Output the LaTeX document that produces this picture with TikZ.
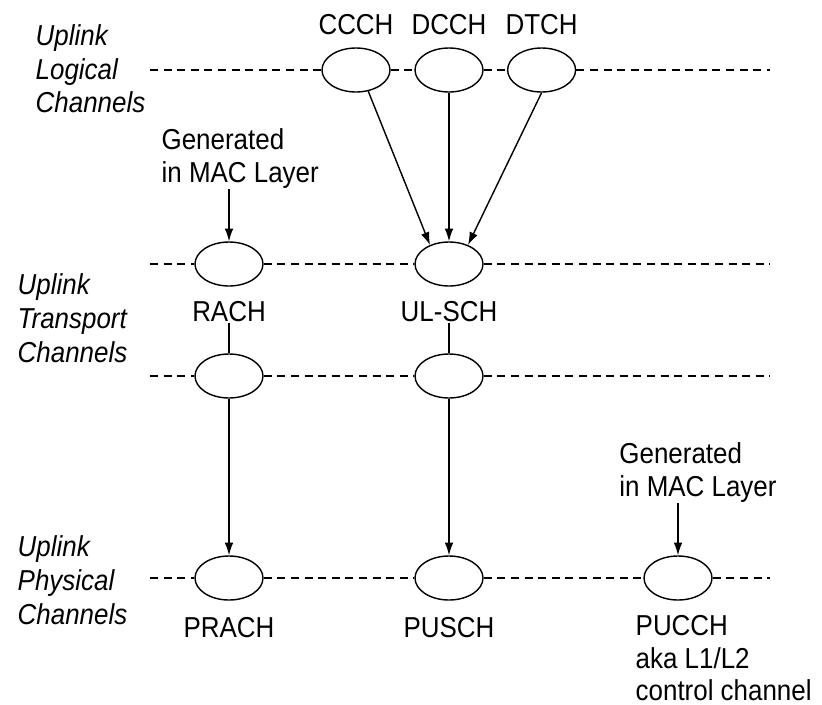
\documentclass[tikz,border=0pt]{standalone}
\usepackage{fontspec}
\setmainfont{Liberation Sans}[FakeStretch=0.9]
\usetikzlibrary{positioning,arrows.meta,shapes.geometric}
\tikzset{
  chan/.style={draw,ellipse,minimum width=1.7cm,minimum height=1.1cm,inner sep=0pt},
  txt/.style={inner sep=0pt,font=\fontsize{20.5}{23.5}\selectfont},
  layer/.style={inner sep=0pt,align=left,font=\fontsize{20.5}{24}\selectfont\itshape},
  guide/.style={dash pattern=on 0.2cm off 0.14cm},
}
\begin{document}
\begin{tikzpicture}[>={Latex[length=3.2mm,width=2.2mm]},line width=1pt]
\useasboundingbox (0,0) rectangle (20.55,-17.6);
% logical channels
\node[chan] (ccch) at (8.9,-1.75) {};
\node[chan] (dcch) at (11.225,-1.75) {};
\node[chan] (dtch) at (13.54,-1.75) {};
\node[txt,above=0.3cm of ccch] (ccchlbl) {CCCH};
\node[txt,above=0.3cm of dcch] (dcchlbl) {DCCH};
\node[txt,above=0.3cm of dtch] (dtchlbl) {DTCH};
\node[layer,anchor=west] (loglbl) at (0.875,-1.72) {Uplink\\Logical\\Channels};
\coordinate (l1) at (3.75,-1.75);
\coordinate (r1) at (19.25,-1.75);
\draw[guide] (l1) -- (ccch) -- (dcch) -- (dtch) -- (r1);
% transport channels
\node[chan] (rach) at (5.725,-6.6) {};
\node[chan] (ulsch) at (11.225,-6.6) {};
\node[chan] (rachx) at (5.725,-9.4) {};
\node[chan] (ulschx) at (11.225,-9.4) {};
\node[txt,below=0.36cm of rach] (rachlbl) {RACH};
\node[txt,below=0.36cm of ulsch] (ulschlbl) {UL-SCH};
\node[txt,align=left,above=1.3cm of rach,xshift=0.28cm] (genrach) {Generated\\in MAC Layer};
\node[layer,anchor=west] (trlbl) at (0.425,-7.95) {Uplink\\Transport\\Channels};
\coordinate (l2) at (3.75,-6.6);
\coordinate (r2) at (19.25,-6.6);
\coordinate (l3) at (3.75,-9.4);
\coordinate (r3) at (19.25,-9.4);
\draw[guide] (l2) -- (rach) -- (ulsch) -- (r2);
\draw[guide] (l3) -- (rachx) -- (ulschx) -- (r3);
\draw[->] (genrach.south -| rach) -- (rach);
\draw[->] (ccch.-60) -- (ulsch.135);
\draw[->] (dcch) -- (ulsch);
\draw[->] (dtch.south) -- (ulsch.45);
\draw (rachx) -- (rachlbl.south -| rachx);
\draw (ulschx) -- (ulschlbl.south -| ulschx);
% physical channels
\node[chan] (prach) at (5.725,-14.45) {};
\node[chan] (pusch) at (11.225,-14.45) {};
\node[chan] (pucch) at (16.95,-14.45) {};
\node[txt,below=0.4cm of prach] (prachlbl) {PRACH};
\node[txt,below=0.4cm of pusch] (puschlbl) {PUSCH};
\node[txt,align=left,anchor=north west,font=\fontsize{20.5}{23}\selectfont] (pucchlbl) at ([xshift=-1.075cm,yshift=-0.36cm]pucch.south) {PUCCH\\aka L1/L2\\control channel};
\node[txt,align=left,above=1.3cm of pucch,xshift=0.5cm] (genpucch) {Generated\\in MAC Layer};
\node[layer,anchor=west] (phylbl) at (0.425,-14.5) {Uplink\\Physical\\Channels};
\coordinate (l4) at (3.75,-14.45);
\coordinate (r4) at (19.25,-14.45);
\draw[guide] (l4) -- (prach) -- (pusch) -- (pucch) -- (r4);
\draw[->] (rachx) -- (prach);
\draw[->] (ulschx) -- (pusch);
\draw[->] (genpucch.south -| pucch) -- (pucch);
\end{tikzpicture}
\end{document}
